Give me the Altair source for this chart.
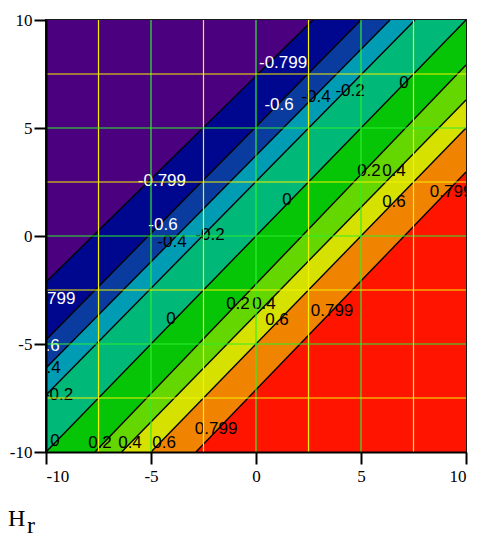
import altair as alt
import pandas as pd

# ---- data ----
levels = [-0.799, -0.6, -0.4, -0.2, 0.0, 0.2, 0.4, 0.6, 0.799]
# each contour line: entry point and exit point on the plot border
cont_x0 = [-10, -10, -10, -10, -10, -7.67, -6.4, -5.0, -2.86]
cont_y0 = [-2.13, -4.81, -6.11, -7.36, -10, -10, -10, -10, -10]
cont_x1 = [2.71, 5.0, 6.38, 7.57, 10, 10, 10, 10, 10]
cont_y1 = [10, 10, 10, 10, 10, 7.92, 6.3, 5.0, 2.96]

band_colors = ["#4b0080", "#00078f", "#0a3ca0", "#009cb4", "#00b878",
               "#06c406", "#64d600", "#d7e100", "#f08400", "#ff1400"]

# contour labels (level, x, y)
lab_level = [-0.799, -0.799, -0.799, -0.6, -0.6, -0.6, -0.4, -0.4, -0.4,
             -0.2, -0.2, -0.2, 0, 0, 0, 0, 0.2, 0.2, 0.2, 0.4, 0.4, 0.4,
             0.6, 0.6, 0.6, 0.799, 0.799, 0.799]
lab_x = [1.29, -4.48, -9.75, 1.1, -4.43, -10.05, 2.86, -4.0, -10.0,
         4.48, -2.19, -9.4, 7.05, 1.48, -4.05, -9.57, 5.38, -0.86, -7.43,
         6.57, 0.38, -6.0, 6.57, 1.0, -4.38, 9.29, 3.62, -1.9]
lab_y = [8.0, 2.55, -2.92, 6.06, 0.51, -5.09, 6.44, -0.28, -6.11,
         6.71, 0.05, -7.36, 7.08, 1.67, -3.84, -9.49, 3.0, -3.15, -9.58,
         3.0, -3.15, -9.58, 1.57, -3.89, -9.58, 2.04, -3.47, -8.94]

major_grid = [-5, 0, 5]
minor_grid = [-7.5, -2.5, 2.5, 7.5]
tick_vals = [-10, -5, 0, 5, 10]
LO, HI = -10, 10

# ---- build tables ----
def cont_y(i, x):
    s = (cont_y1[i] - cont_y0[i]) / (cont_x1[i] - cont_x0[i])
    y = cont_y0[i] + (x - cont_x0[i]) * s
    return min(HI, max(LO, y))

xs_break = sorted(set(cont_x0 + cont_x1 + [LO, HI]))
rows = []
nb = len(levels) + 1
for b in range(nb):
    for x in xs_break:
        lo = LO if b == nb - 1 else cont_y(b, x)
        hi = HI if b == 0 else cont_y(b - 1, x)
        rows.append({"band": b, "x": x, "y": lo, "y2": hi, "fill": band_colors[b]})
bands = pd.DataFrame(rows)

lines = pd.DataFrame(
    [{"lev": i, "x": cont_x0[i], "y": cont_y0[i]} for i in range(len(levels))]
    + [{"lev": i, "x": cont_x1[i], "y": cont_y1[i]} for i in range(len(levels))]
)

labels = pd.DataFrame({
    "x": lab_x, "y": lab_y,
    "text": [f"{v:g}" for v in lab_level],
    "tc": ["white" if v <= -0.6 else "black" for v in lab_level],
})

grid = pd.DataFrame(
    [{"v": v, "c": "#2cf02c"} for v in major_grid]
    + [{"v": v, "c": "#f2f200"} for v in minor_grid]
)

# ---- scales / axes ----
sx = alt.Scale(domain=[LO, HI], nice=False, zero=False)
sy = alt.Scale(domain=[LO, HI], nice=False, zero=False)
ax_common = dict(values=tick_vals, grid=False, tickColor="black", tickWidth=2,
                 domainColor="black", domainWidth=2, labelFont="Liberation Serif",
                 labelFontSize=17, labelColor="black", zindex=1, title=None,
                 labelExpr="'' + datum.value")
xaxis = alt.Axis(orient="bottom", tickSize=12, labelPadding=4, **ax_common)
yaxis = alt.Axis(orient="left", tickSize=12, labelPadding=2, **ax_common)

X = lambda f: alt.X(f, scale=sx, axis=xaxis, title=None)
Y = lambda f: alt.Y(f, scale=sy, axis=yaxis, title=None)

area = alt.Chart(bands).mark_area(clip=True, strokeWidth=0).encode(
    x=X("x:Q"), y=Y("y:Q"), y2="y2:Q",
    color=alt.Color("fill:N", scale=None), detail="band:N",
)

clines = alt.Chart(lines).mark_line(color="black", strokeWidth=1.4, clip=True).encode(
    x=X("x:Q"), y=Y("y:Q"), detail="lev:N",
)

text = alt.Chart(labels).mark_text(
    clip=True, font="Liberation Sans", fontSize=17, align="center", baseline="middle"
).encode(x=X("x:Q"), y=Y("y:Q"), text="text:N", color=alt.Color("tc:N", scale=None))

vgrid = alt.Chart(grid).mark_rule(strokeWidth=1.2).encode(
    x=X("v:Q"), color=alt.Color("c:N", scale=None))
hgrid = alt.Chart(grid).mark_rule(strokeWidth=1.2).encode(
    y=Y("v:Q"), color=alt.Color("c:N", scale=None))

h_text = alt.Chart(pd.DataFrame({"t": ["H"]})).mark_text(
    align="left", baseline="alphabetic", font="Liberation Serif", fontSize=24, color="black"
).encode(x=alt.value(-38), y=alt.value(506), text="t:N")
r_text = alt.Chart(pd.DataFrame({"t": ["r"]})).mark_text(
    align="left", baseline="alphabetic", font="Liberation Serif", fontSize=24, color="black"
).encode(x=alt.value(-19), y=alt.value(513), text="t:N")

chart = alt.layer(area, clines, text, vgrid, hgrid, h_text, r_text).properties(
    width=420, height=432,
    autosize=alt.AutoSizeParams(type="none"),
    padding={"left": 38, "top": 12, "right": 7, "bottom": 88},
).configure_view(stroke="#1a1a1a", strokeWidth=2)

chart.save("out.html", embed_options={"renderer": "svg", "actions": False})
